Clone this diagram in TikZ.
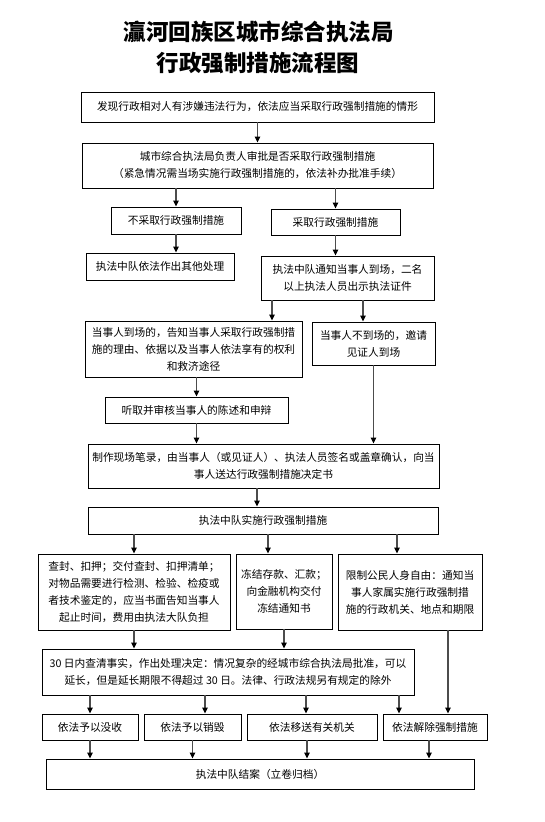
\documentclass[tikz,border=0pt]{standalone}
\usepackage{fontspec}
\setmainfont{Noto Sans CJK SC}
\usetikzlibrary{arrows.meta}
\begin{document}
\begin{tikzpicture}[x=1pt,y=-1pt,
  box/.style={draw=black,line width=0.9pt,inner sep=0pt,align=center,
    font=\fontsize{10.7pt}{17pt}\selectfont},
  arr/.style={draw=black!70,line width=1.1pt,
    -{Triangle[length=6pt,width=5.5pt,fill=black,color=black]}},
  ttl/.style={font=\fontsize{22.5pt}{30pt}\selectfont\bfseries,inner sep=0pt}]
\useasboundingbox[fill=white] (0,0) rectangle (545,822);
% title
\node[ttl] (t1) at (258.5,32) {灜河回族区城市综合执法局};
\node[ttl] (t2) at (258,63) {行政强制措施流程图};
% boxes
\node[box,minimum width=353pt,minimum height=30pt] (b1) at (257.5,107)
  {发现行政相对人有涉嫌违法行为，依法应当采取行政强制措施的情形};
\node[box,minimum width=351pt,minimum height=45pt] (b2) at (257.5,165.5)
  {城市综合执法局负责人审批是否采取行政强制措施\\（紧急情况需当场实施行政强制措施的，依法补办批准手续）};
\node[box,minimum width=130pt,minimum height=27pt] (bno) at (176,220.5)
  {不采取行政强制措施};
\node[box,minimum width=129pt,minimum height=26pt] (byes) at (335.5,222)
  {采取行政强制措施};
\node[box,minimum width=148pt,minimum height=27pt] (bother) at (160,266.5)
  {执法中队依法作出其他处理};
\node[box,minimum width=173pt,minimum height=44pt] (bnotify) at (347.5,278)
  {执法中队通知当事人到场，二名\\以上执法人员出示执法证件};
\node[box,minimum width=217pt,minimum height=56pt] (bA) at (193.5,349)
  {当事人到场的，告知当事人采取行政强制措\\施的理由、依据以及当事人依法享有的权利\\和救济途径};
\node[box,minimum width=123pt,minimum height=43pt] (bB) at (373.5,343.5)
  {当事人不到场的，邀请\\见证人到场};
\node[box,minimum width=183pt,minimum height=26pt] (bC) at (196.5,410)
  {听取并审核当事人的陈述和申辩};
\node[box,minimum width=351pt,minimum height=44pt] (bD) at (263.5,466)
  {制作现场笔录，由当事人（或见证人）、执法人员签名或盖章确认，向当\\事人送达行政强制措施决定书};
\node[box,minimum width=350pt,minimum height=27pt] (bE) at (263,520.5)
  {执法中队实施行政强制措施};
\node[box,minimum width=192pt,minimum height=76pt] (bF1) at (134,592)
  {查封、扣押；交付查封、扣押清单；\\对物品需要进行检测、检验、检疫或\\者技术鉴定的，应当书面告知当事人\\起止时间，费用由执法大队负担};
\node[box,minimum width=96pt,minimum height=75pt] (bF2) at (284,591.5)
  {冻结存款、汇款；\\向金融机构交付\\冻结通知书};
\node[box,minimum width=144pt,minimum height=76pt] (bF3) at (410,592)
  {限制公民人身自由：通知当\\事人家属实施行政强制措\\施的行政机关、地点和期限};
\node[box,minimum width=372pt,minimum height=46pt] (bG) at (228,672)
  {30 日内查清事实，作出处理决定：情况复杂的经城市综合执法局批准，可以\\延长，但是延长期限不得超过 30 日。法律、行政法规另有规定的除外};
\node[box,minimum width=96pt,minimum height=26pt] (bH1) at (90,727) {依法予以没收};
\node[box,minimum width=97pt,minimum height=26pt] (bH2) at (192.5,727) {依法予以销毁};
\node[box,minimum width=130pt,minimum height=26pt] (bH3) at (312,727) {依法移送有关机关};
\node[box,minimum width=104pt,minimum height=26pt] (bH4) at (435,727) {依法解除强制措施};
\node[box,minimum width=428pt,minimum height=30pt] (bI) at (260,774)
  {执法中队结案（立卷归档）};
% connectors
\draw[arr] (b1.south) -- (b1.south |- b2.north);
\draw[arr] (b2.south -| bno.north) -- (bno.north);
\draw[arr] (b2.south -| byes.north) -- (byes.north);
\draw[arr] (bno.south) -- (bno.south |- bother.north);
\draw[arr] (byes.south) -- (byes.south |- bnotify.north);
\draw[arr] ([xshift=-75.5pt]bnotify.south) -- ([xshift=-75.5pt]bnotify.south |- bA.north);
\draw[arr] ([xshift=15.5pt]bnotify.south) -- ([xshift=15.5pt]bnotify.south |- bB.north);
\draw[arr] (bA.south -| bC.north) -- (bC.north);
\draw[arr] (bB.south) -- (bB.south |- bD.north);
\draw[arr] (bC.south) -- (bC.south |- bD.north);
\draw[arr] ([xshift=-6.5pt]bD.south) -- ([xshift=-6.5pt]bD.south |- bE.north);
\draw[arr] (bE.south -| bF1.north) -- (bF1.north);
\draw[arr] ([xshift=5pt]bE.south) -- ([xshift=5pt]bE.south |- bF2.north);
\draw[arr] ([xshift=134pt]bE.south) -- ([xshift=134pt]bE.south |- bF3.north);
\draw[arr] (bF1.south) -- (bF1.south |- bG.north);
\draw[arr] (bF2.south) -- (bF2.south |- bG.north);
\draw[arr] ([xshift=38pt]bF3.south) -- ([xshift=38pt]bF3.south |- bH4.north);
\draw[arr] (bG.south -| bH1.north) -- (bH1.north);
\draw[arr] ([xshift=-23pt]bG.south) -- ([xshift=-23pt]bG.south |- bH2.north);
\draw[arr] ([xshift=78pt]bG.south) -- ([xshift=78pt]bG.south |- bH3.north);
\draw[arr] ([xshift=171pt]bG.south) -- ([xshift=171pt]bG.south |- bH4.north);
\draw[arr] (bH1.south) -- (bH1.south |- bI.north);
\draw[arr] (bH2.south) -- (bH2.south |- bI.north);
\draw[arr] ([xshift=-5pt]bH3.south) -- ([xshift=-5pt]bH3.south |- bI.north);
\draw[arr] ([xshift=-6pt]bH4.south) -- ([xshift=-6pt]bH4.south |- bI.north);
\end{tikzpicture}
\end{document}
